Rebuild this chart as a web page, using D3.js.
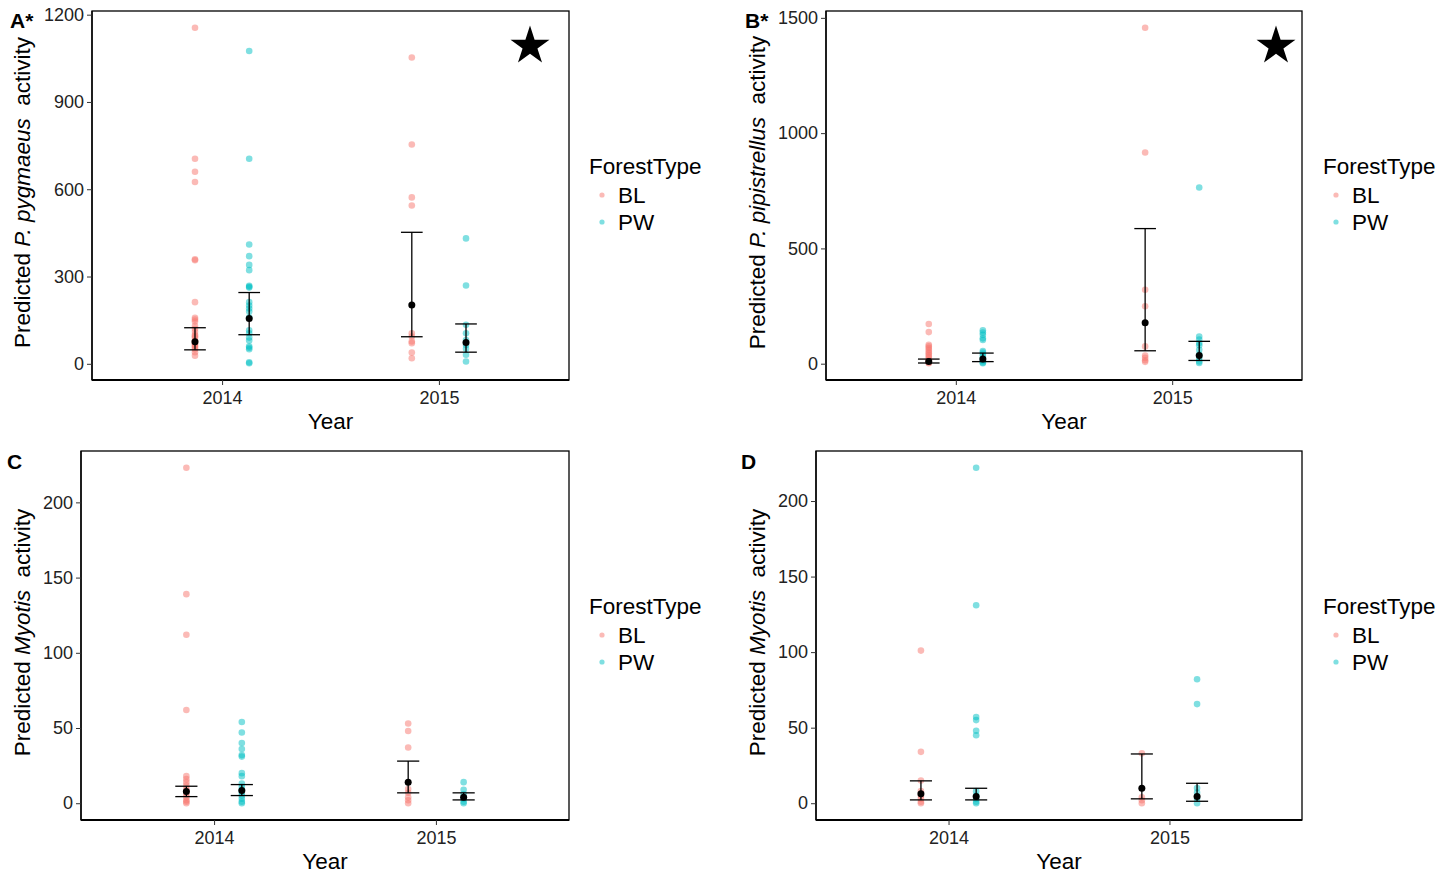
<!DOCTYPE html>
<html>
<head>
<meta charset="utf-8">
<script src="https://cdn.jsdelivr.net/npm/d3@7"></script>
<style>
  html, body { margin: 0; padding: 0; background: #fff; }
  svg { display: block; font-family: "Liberation Sans", Arial, sans-serif; }
</style>
</head>
<body>
<svg id="chart" width="1456" height="879"></svg>
<script>
// Categories
const years = ["2014", "2015"];
const forestTypes = ["BL", "PW"];
const forestColors = ["#F8766D", "#00BFC4"];

// Summary order in every mean/lower/upper array: BL 2014, PW 2014, BL 2015, PW 2015

// Panel A: P. pygmaeus
const pygBL2014 = [1155, 705, 660, 625, 359, 356, 212, 158, 152, 145, 130, 120, 110, 100, 95, 90, 80, 75, 70, 65, 60, 55, 50, 40, 28];
const pygPW2014 = [1075, 705, 410, 370, 340, 322, 268, 265, 262, 212, 200, 190, 180, 160, 115, 105, 90, 80, 60, 55, 50, 5, 2];
const pygBL2015 = [1053, 754, 572, 544, 105, 94, 77, 71, 39, 19];
const pygPW2015 = [431, 269, 134, 105, 82, 65, 52, 31, 8];
const pygMean  = [76, 156, 202, 73];
const pygLower = [48, 100, 93, 40];
const pygUpper = [124, 245, 452, 137];
const pygTicks = [0, 300, 600, 900, 1200];

// Panel B: P. pipistrellus
const pipBL2014 = [172, 137, 82, 75, 68, 60, 52, 45, 38, 30, 22, 15, 10, 5, 2];
const pipPW2014 = [145, 135, 125, 110, 103, 55, 48, 40, 30, 20, 12, 5, 2];
const pipBL2015 = [1457, 916, 321, 249, 75, 35, 25, 15, 8];
const pipPW2015 = [764, 118, 105, 90, 80, 60, 40, 25, 10, 3];
const pipMean  = [10, 20, 178, 35];
const pipLower = [3, 9, 56, 14];
const pipUpper = [20, 46, 586, 97];
const pipTicks = [0, 500, 1000, 1500];

// Panel C: Myotis
const myoCBL2014 = [223, 139, 112, 62, 18, 16, 14, 12, 10, 8, 6, 4, 2, 1, 0];
const myoCPW2014 = [54, 47, 40, 36, 32, 31, 20, 18, 13, 11, 9, 7, 5, 3, 1, 0];
const myoCBL2015 = [53, 48, 37, 9.5, 7, 4, 2, 0];
const myoCPW2015 = [14, 9, 6, 3, 1, 0];
const myoCMean  = [7.8, 8.4, 14, 4];
const myoCLower = [4.4, 5.1, 6.9, 2.2];
const myoCUpper = [11.3, 12.4, 28, 6.9];

// Panel D: Myotis
const myoDBL2014 = [101, 34, 15, 8, 5, 3, 1, 0];
const myoDPW2014 = [222, 131, 57, 55, 48, 45, 8, 5, 3, 1, 0];
const myoDBL2015 = [33, 4, 2, 0];
const myoDPW2015 = [82, 65.6, 10, 7, 3, 0];
const myoDMean  = [6.2, 4.4, 9.9, 4.4];
const myoDLower = [2.2, 2.2, 2.9, 1.3];
const myoDUpper = [14.8, 9.9, 32.6, 13.2];
const myoTicks = [0, 50, 100, 150, 200];

const panels = [
  { label: "A*", species: "P. pygmaeus", starred: true,
    box: { x0: 92, x1: 569, y0: 11, y1: 380 },
    groups: [pygBL2014, pygPW2014, pygBL2015, pygPW2015],
    mean: pygMean, lower: pygLower, upper: pygUpper, ticks: pygTicks,
    labelPos: [10, 28], titleX: 22, legendX: 589, starX: 530 },
  { label: "B*", species: "P. pipistrellus", starred: true,
    box: { x0: 826, x1: 1302, y0: 11, y1: 380 },
    groups: [pipBL2014, pipPW2014, pipBL2015, pipPW2015],
    mean: pipMean, lower: pipLower, upper: pipUpper, ticks: pipTicks,
    labelPos: [745, 28], titleX: 757, legendX: 1323, starX: 1276 },
  { label: "C", species: "Myotis", starred: false,
    box: { x0: 81, x1: 569, y0: 451, y1: 820 },
    groups: [myoCBL2014, myoCPW2014, myoCBL2015, myoCPW2015],
    mean: myoCMean, lower: myoCLower, upper: myoCUpper, ticks: myoTicks,
    labelPos: [7, 469], titleX: 22, legendX: 589 },
  { label: "D", species: "Myotis", starred: false,
    box: { x0: 816, x1: 1302, y0: 451, y1: 820 },
    groups: [myoDBL2014, myoDPW2014, myoDBL2015, myoDPW2015],
    mean: myoDMean, lower: myoDLower, upper: myoDUpper, ticks: myoTicks,
    labelPos: [741, 469], titleX: 757, legendX: 1323 }
];

const svg = d3.select("#chart");
const dodge = 0.125;     // half of the dodge width, in x units
const whisker = 0.05;    // half width of the error-bar caps, in x units
const tickFont = 18;
const titleFont = 22.5;

function drawPanel(p) {
  const b = p.box;
  const g = svg.append("g");

  // discrete x positions 1 and 2 with ggplot-style 0.6 expansion
  const x = d3.scaleLinear().domain([0.4, 2.6]).range([b.x0, b.x1]);

  // y domain: data range expanded by 5% on each side
  const all = p.groups.flat().concat(p.upper, p.lower);
  const lo = d3.min(all), hi = d3.max(all);
  const pad = (hi - lo) * 0.05;
  const y = d3.scaleLinear().domain([lo - pad, hi + pad]).range([b.y1, b.y0]);

  // group index -> x centre
  const groupX = i => {
    const yearIdx = Math.floor(i / 2);
    const typeIdx = i % 2;
    return x(yearIdx + 1 + (typeIdx === 0 ? -dodge : dodge));
  };

  // raw points
  p.groups.forEach((vals, i) => {
    g.append("g").selectAll("circle").data(vals).join("circle")
      .attr("cx", groupX(i))
      .attr("cy", d => y(d))
      .attr("r", 3.3)
      .attr("fill", forestColors[i % 2])
      .attr("fill-opacity", 0.5);
  });

  // error bars and means
  const summary = p.mean.map((m, i) => ({ i, m, lo: p.lower[i], hi: p.upper[i] }));
  const eb = g.append("g").attr("stroke", "#000").attr("stroke-width", 1.3);
  eb.selectAll("line.v").data(summary).join("line").attr("class", "v")
    .attr("x1", d => groupX(d.i)).attr("x2", d => groupX(d.i))
    .attr("y1", d => y(d.lo)).attr("y2", d => y(d.hi));
  ["lo", "hi"].forEach(k => {
    eb.selectAll("line." + k).data(summary).join("line").attr("class", k)
      .attr("x1", d => groupX(d.i) - (x(1 + whisker) - x(1)))
      .attr("x2", d => groupX(d.i) + (x(1 + whisker) - x(1)))
      .attr("y1", d => y(d[k])).attr("y2", d => y(d[k]));
  });
  g.append("g").selectAll("circle").data(summary).join("circle")
    .attr("cx", d => groupX(d.i)).attr("cy", d => y(d.m))
    .attr("r", 3.5).attr("fill", "#000");

  // panel border
  g.append("rect")
    .attr("x", b.x0).attr("y", b.y0)
    .attr("width", b.x1 - b.x0).attr("height", b.y1 - b.y0)
    .attr("fill", "none").attr("stroke", "#000").attr("stroke-width", 1.3);
  // heavier axis lines
  g.append("line").attr("x1", b.x0).attr("x2", b.x1).attr("y1", b.y1).attr("y2", b.y1)
    .attr("stroke", "#000").attr("stroke-width", 2);
  g.append("line").attr("x1", b.x0).attr("x2", b.x0).attr("y1", b.y0).attr("y2", b.y1)
    .attr("stroke", "#000").attr("stroke-width", 1.3);

  // y axis
  const yAxis = g.append("g").attr("transform", `translate(${b.x0},0)`)
    .call(d3.axisLeft(y).tickValues(p.ticks).tickSize(5).tickPadding(3).tickFormat(d3.format("d")));
  yAxis.select(".domain").remove();
  yAxis.selectAll("line").attr("stroke", "#333");
  yAxis.selectAll("text").attr("font-size", tickFont).attr("fill", "#222")
    .attr("font-family", "'Liberation Sans', Arial, sans-serif");

  // x axis
  const xAxis = g.append("g").attr("transform", `translate(0,${b.y1})`)
    .call(d3.axisBottom(x).tickValues([1, 2]).tickSize(5).tickPadding(6)
      .tickFormat(d => years[d - 1]));
  xAxis.select(".domain").remove();
  xAxis.selectAll("line").attr("stroke", "#333");
  xAxis.selectAll("text").attr("font-size", tickFont).attr("fill", "#222")
    .attr("font-family", "'Liberation Sans', Arial, sans-serif");

  // x title
  g.append("text").attr("x", (b.x0 + b.x1) / 2).attr("y", b.y1 + 49)
    .attr("text-anchor", "middle").attr("font-size", titleFont).attr("fill", "#000")
    .text("Year");

  // y title with italic taxon name
  const yt = g.append("text")
    .attr("transform", `translate(${p.titleX + 8},${(b.y0 + b.y1) / 2 - 3}) rotate(-90)`)
    .attr("text-anchor", "middle").attr("font-size", titleFont).attr("fill", "#000");
  yt.append("tspan").text("Predicted ");
  yt.append("tspan").attr("font-style", "italic").text(p.species);
  yt.append("tspan").text("\u00a0\u00a0activity");

  // panel tag
  g.append("text").attr("x", p.labelPos[0]).attr("y", p.labelPos[1])
    .attr("font-size", 21).attr("font-weight", "bold").attr("fill", "#000")
    .text(p.label);

  // significance star
  if (p.starred) {
    g.append("path")
      .attr("transform", `translate(${p.starX},${b.y0 + 35})`)
      .attr("d", d3.symbol(d3.symbolStar, 470)())
      .attr("fill", "#000");
  }

  // legend
  const lg = g.append("g").attr("transform", `translate(${p.legendX},${b.y0})`);
  lg.append("text").attr("x", 0).attr("y", 163)
    .attr("font-size", titleFont).attr("fill", "#000").text("ForestType");
  forestTypes.forEach((ft, i) => {
    lg.append("circle").attr("cx", 13).attr("cy", 184 + i * 27).attr("r", 2.6)
      .attr("fill", forestColors[i]).attr("fill-opacity", 0.5);
    lg.append("text").attr("x", 29).attr("y", 192 + i * 27)
      .attr("font-size", titleFont).attr("fill", "#000").text(ft);
  });
}

panels.forEach(drawPanel);
</script>
</body>
</html>
